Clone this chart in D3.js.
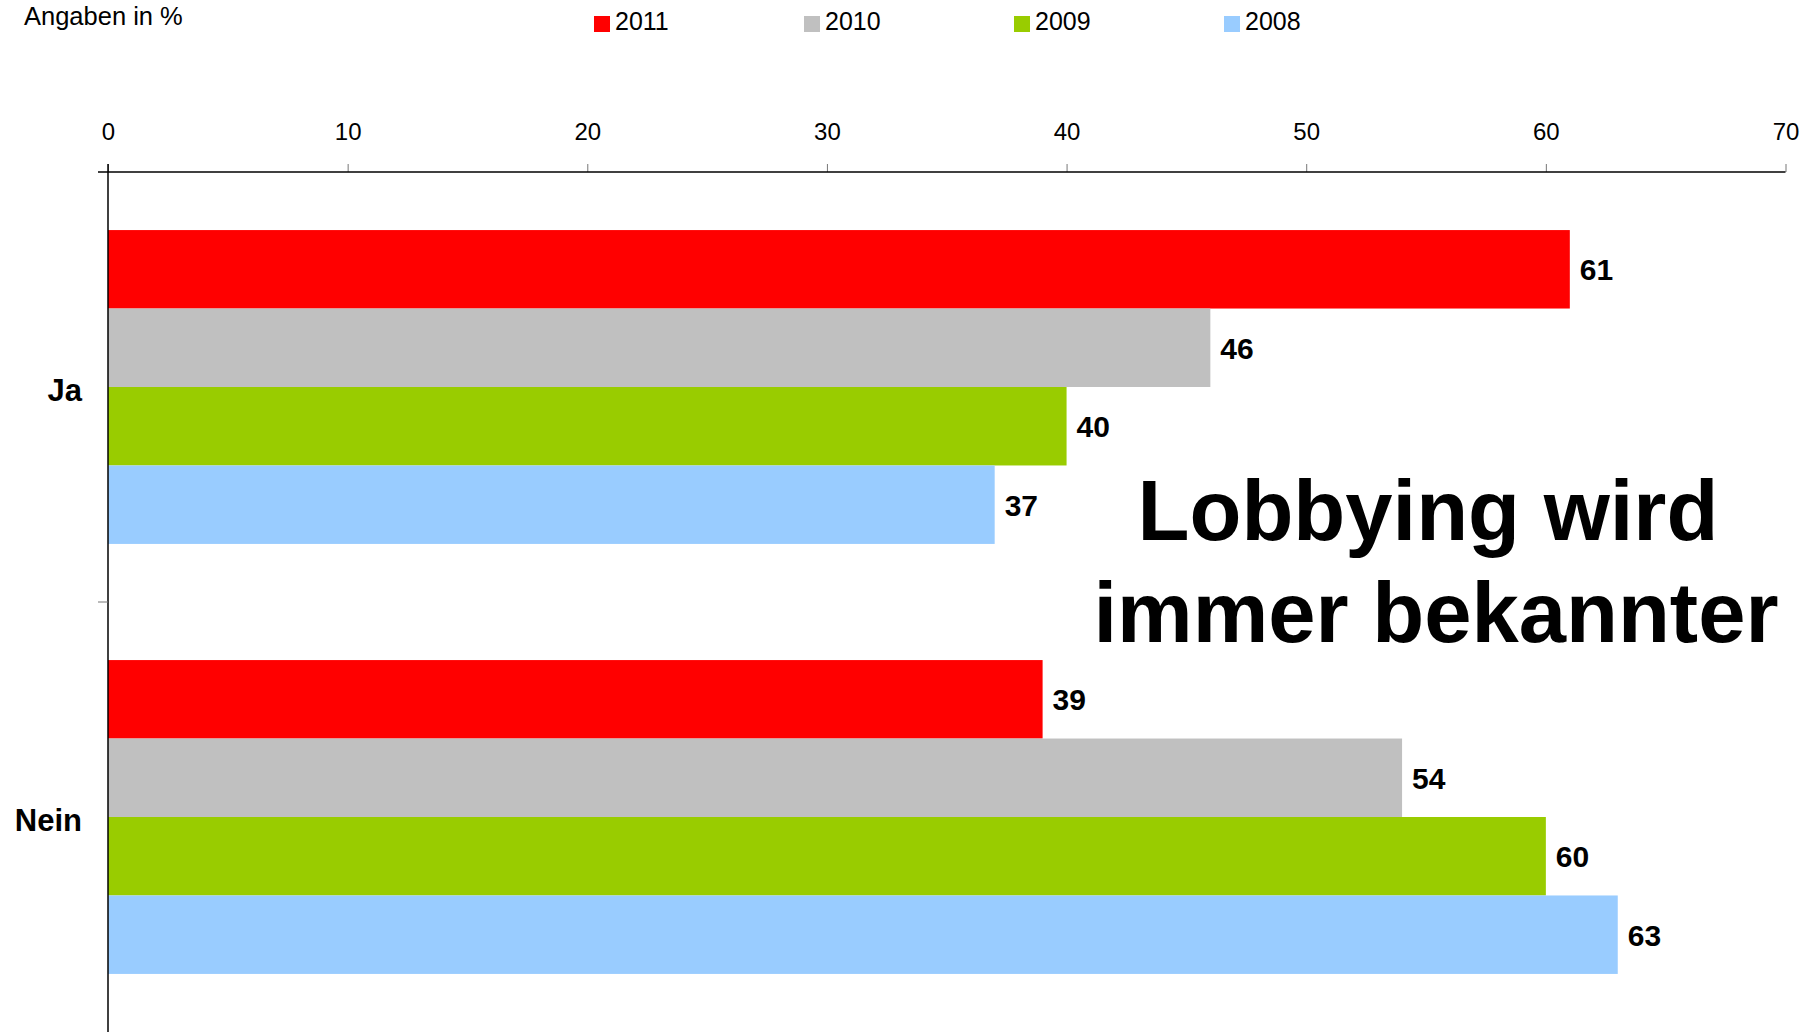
<!DOCTYPE html>
<head>
<meta charset="utf-8">
<style>
    body { margin: 0; background: #fff; }
    svg text { font-family: "Liberation Sans", Arial, sans-serif; }
</style>
<script src="https://d3js.org/d3.v7.min.js"></script>
</head>
<body>
<script>
// data
var categories = ["Ja", "Nein"];
var years = ["2011", "2010", "2009", "2008"];
var values2011 = [61, 39];
var values2010 = [46, 54];
var values2009 = [40, 60];
var values2008 = [37, 63];
var xTicks = [0, 10, 20, 30, 40, 50, 60, 70];
var colors = ["#ff0000", "#c0c0c0", "#99cc00", "#99ccff"];

var series = [values2011, values2010, values2009, values2008];

var width = 1815,
    height = 1032;

var svg = d3.select("body").append("svg")
    .attr("width", width)
    .attr("height", height);

var x = d3.scaleLinear()
    .domain([0, 70])
    .range([108, 1785.5]);

var y0 = d3.scaleBand()
    .domain(categories)
    .range([172, 1032]);

var y1 = d3.scaleBand()
    .domain(years)
    .range([0, y0.bandwidth()])
    .paddingInner(0)
    .paddingOuter(0.74);

var color = d3.scaleOrdinal()
    .domain(years)
    .range(colors);

// bars
var groups = svg.append("g")
  .selectAll("g")
  .data(categories)
  .enter().append("g")
    .attr("transform", function(d) { return "translate(0," + y0(d) + ")"; });

groups.selectAll("rect")
  .data(function(d, i) {
      return years.map(function(yr, j) { return {year: yr, value: series[j][i]}; });
  })
  .enter().append("rect")
    .attr("x", x(0))
    .attr("y", function(d) { return y1(d.year); })
    .attr("width", function(d) { return x(d.value) - x(0); })
    .attr("height", y1.bandwidth())
    .attr("fill", function(d) { return color(d.year); });

groups.selectAll("text")
  .data(function(d, i) {
      return years.map(function(yr, j) { return {year: yr, value: series[j][i]}; });
  })
  .enter().append("text")
    .attr("x", function(d) { return x(d.value) + 10; })
    .attr("y", function(d) { return y1(d.year) + y1.bandwidth() / 2; })
    .attr("dy", "0.36em")
    .attr("font-size", "30px")
    .attr("font-weight", "bold")
    .attr("fill", "#000")
    .text(function(d) { return d.value; });

// top axis
var xAxis = svg.append("g")
    .attr("transform", "translate(0,172)")
    .call(d3.axisTop(x)
        .tickValues(xTicks)
        .tickSize(8)
        .tickPadding(24));
xAxis.select(".domain").remove();
xAxis.selectAll(".tick line").attr("stroke", "#777");
xAxis.selectAll(".tick text")
    .attr("font-family", "Liberation Sans, Arial, sans-serif")
    .attr("font-size", "24px")
    .attr("fill", "#000");

svg.append("line")
    .attr("x1", x(0) - 10)
    .attr("x2", x(70))
    .attr("y1", 172)
    .attr("y2", 172)
    .attr("stroke", "#000")
    .attr("stroke-width", 1.5);

// left axis
svg.append("line")
    .attr("x1", x(0))
    .attr("x2", x(0))
    .attr("y1", 164)
    .attr("y2", height)
    .attr("stroke", "#000")
    .attr("stroke-width", 1.5);

svg.append("g")
  .selectAll("line")
  .data(categories.slice(1))
  .enter().append("line")
    .attr("x1", x(0) - 10)
    .attr("x2", x(0))
    .attr("y1", function(d) { return y0(d); })
    .attr("y2", function(d) { return y0(d); })
    .attr("stroke", "#777");

svg.append("g")
  .selectAll("text")
  .data(categories)
  .enter().append("text")
    .attr("x", 82)
    .attr("y", function(d) { return y0(d) + y0.bandwidth() / 2 + 3; })
    .attr("dy", "0.36em")
    .attr("text-anchor", "end")
    .attr("font-size", "31px")
    .attr("font-weight", "bold")
    .text(function(d) { return d; });

// note + legend
svg.append("text")
    .attr("x", 24)
    .attr("y", 25)
    .attr("font-size", "25.5px")
    .text("Angaben in %");

var legend = svg.append("g")
  .selectAll("g")
  .data(years)
  .enter().append("g")
    .attr("transform", function(d, i) { return "translate(" + (594 + i * 210) + ",16)"; });

legend.append("rect")
    .attr("width", 16)
    .attr("height", 16)
    .attr("fill", function(d) { return color(d); });

legend.append("text")
    .attr("x", 21)
    .attr("y", 14)
    .attr("font-size", "25px")
    .text(function(d) { return d; });

// headline
var title = svg.append("text")
    .attr("text-anchor", "middle")
    .attr("font-size", "85px")
    .attr("font-weight", "bold");
title.append("tspan").attr("x", 1428).attr("y", 540).text("Lobbying wird");
title.append("tspan").attr("x", 1436).attr("y", 642).text("immer bekannter");
</script>
</body>
